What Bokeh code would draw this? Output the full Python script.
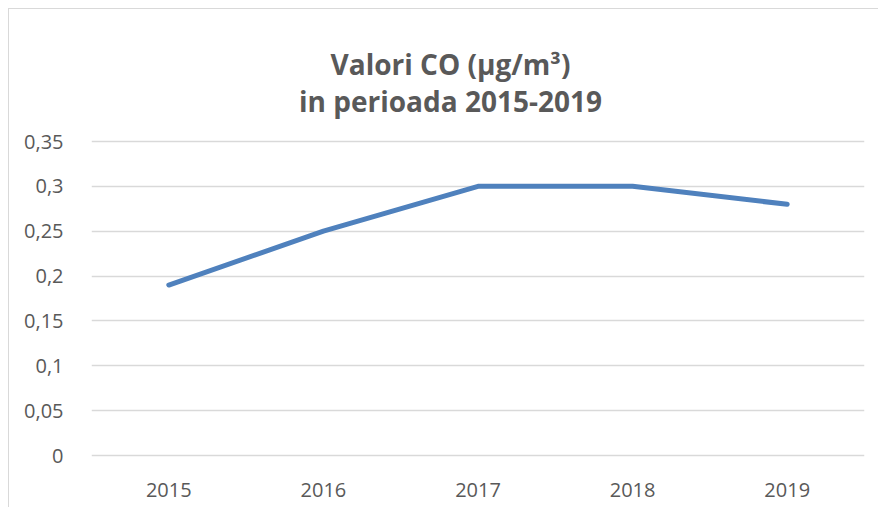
from bokeh.plotting import figure
from bokeh.models import Label, FixedTicker
from bokeh.embed import file_html
from bokeh.resources import INLINE

years = ["2015", "2016", "2017", "2018", "2019"]
values = [0.19, 0.25, 0.30, 0.30, 0.28]
y_ticks = [0, 0.05, 0.1, 0.15, 0.2, 0.25, 0.3, 0.35]
y_labels = ["0", "0,05", "0,1", "0,15", "0,2", "0,25", "0,3", "0,35"]
title_lines = ["Valori CO (µg/m³)", "in perioada 2015-2019"]

FONT = "Open Sans"
TXT = "#595959"
GRID = "#d9d9d9"

# frame extends over the title area so the title labels are not clipped
px = 0.35 / 314
y0 = -2 * px
y1 = y0 + 448 * px
p = figure(x_range=years, y_range=(y0, y1), width=870, height=499,
           output_backend="svg", toolbar_location=None,
           min_border_left=82, min_border_right=15, min_border_top=0,
           min_border_bottom=51)
p.styles = {"margin-left": "8px", "margin-top": "8px",
            "border-left": "1px solid #d9d9d9", "border-top": "1px solid #d9d9d9"}

p.line(x=years, y=values, line_color="#4f81bd", line_width=5, line_cap="round", line_join="round")

p.outline_line_color = None
p.xgrid.grid_line_color = None
p.ygrid.grid_line_color = GRID
p.ygrid.grid_line_width = 1.5

p.yaxis.ticker = FixedTicker(ticks=y_ticks)
p.yaxis.major_label_overrides = {t: l for t, l in zip(y_ticks, y_labels)}
for ax in (p.xaxis[0], p.yaxis[0]):
    ax.axis_line_color = None
    ax.major_tick_line_color = None
    ax.minor_tick_line_color = None
    ax.major_label_text_font = FONT
    ax.major_label_text_font_size = "20px"
    ax.major_label_text_color = TXT
p.yaxis.major_label_standoff = 22
p.xaxis.major_label_standoff = 19

for txt, ys in zip(title_lines, [394, 357]):
    p.add_layout(Label(x=359, y=ys, x_units="screen", y_units="screen", text=txt,
                       text_align="center", text_baseline="alphabetic",
                       text_font=FONT, text_font_size="28px", text_font_style="bold",
                       text_color=TXT))

open("out.html", "w").write(file_html(p, INLINE))
